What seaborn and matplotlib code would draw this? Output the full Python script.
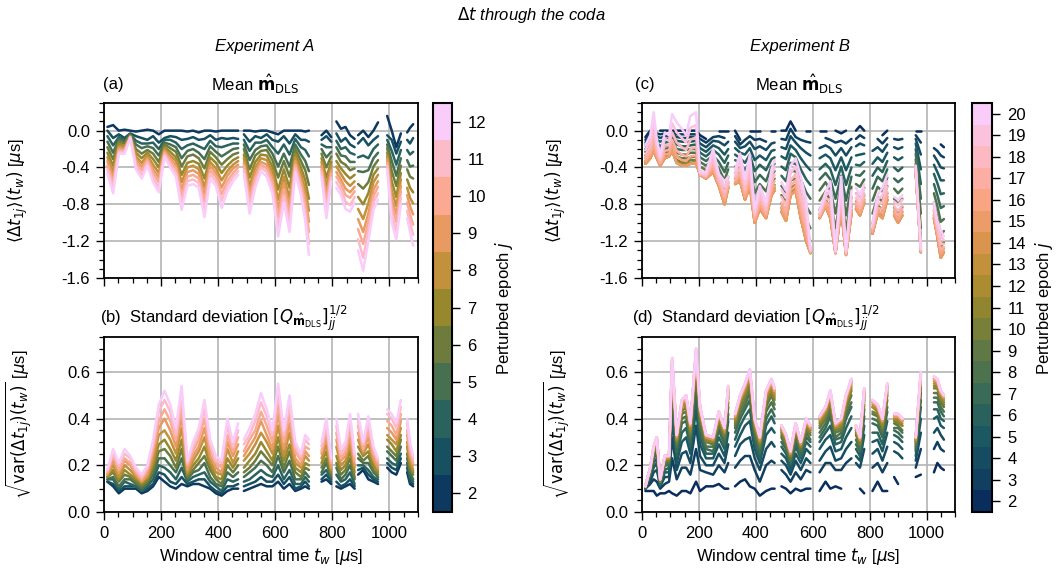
import numpy as np
import pandas as pd
import matplotlib
matplotlib.use("Agg")
import matplotlib.pyplot as plt
import matplotlib.cm as cm
import seaborn as sns
from matplotlib.colors import LinearSegmentedColormap, ListedColormap, BoundaryNorm
from matplotlib.ticker import MultipleLocator, FormatStrFormatter

# ---------------- data (values in units of 0.01 us) ----------------
epochs_a = list(range(2, 13))
epochs_b = list(range(2, 21))

# window central times, Experiment A (rows of None are gaps)
t_a = [12, 32, 52, 72, 92, 112, 132, 152, 172, 192, 212, 232, 252, 272, 292, 312, 332, 352, 372, 392,
       412, 432, 452, 470, 480, 490, 510, 530, 550, 570, 590, 610, 630, 650, 670, 690, 705, 718, 740,
       762, 779, 796, 805, 814, 830, 846, 862, 878, 884, 890, 908, 926, 944, 960, 975,
       992, 1008, 1024, 1040, 1050, 1062, 1072, 1083]

# (a) mean, one row per window, columns j = 2..12
mean_a = [
    [4, 0, -6, -12, -18, -24, -29, -33, -38, -42, -47],
    [6, -8, -16, -24, -31, -38, -45, -51, -56, -62, -68],
    [0, -4, -7, -9, -12, -14, -17, -19, -21, -23, -25],
    [1, -8, -10, -12, -14, -17, -18, -20, -22, -23, -25],
    [0, -3, -4, -4, -5, -6, -6, -7, -7, -7, -8],
    [-1, -6, -11, -15, -20, -24, -28, -32, -35, -38, -42],
    [0, -8, -14, -19, -25, -30, -35, -39, -43, -48, -52],
    [1, -10, -14, -17, -21, -24, -27, -30, -32, -35, -38],
    [0, -6, -13, -19, -25, -31, -37, -42, -46, -51, -56],
    [-4, -13, -20, -27, -34, -40, -46, -51, -56, -62, -67],
    [0, -8, -10, -13, -15, -18, -20, -22, -24, -26, -28],
    [0, -6, -10, -15, -19, -23, -27, -30, -33, -37, -40],
    [0, -7, -13, -18, -23, -29, -33, -38, -41, -46, -50],
    [0, -10, -20, -30, -39, -48, -56, -64, -71, -78, -86],
    [-1, -9, -16, -22, -28, -35, -40, -45, -50, -55, -60],
    [0, -7, -14, -20, -26, -33, -38, -43, -48, -53, -58],
    [-2, -10, -17, -24, -30, -36, -42, -47, -52, -57, -62],
    [0, -9, -20, -31, -41, -52, -61, -69, -77, -86, -94],
    [0, -5, -11, -17, -23, -29, -34, -38, -43, -47, -52],
    [-1, -10, -17, -23, -29, -35, -41, -46, -50, -55, -60],
    [0, -8, -18, -28, -37, -46, -54, -62, -69, -76, -84],
    [0, -9, -16, -24, -31, -38, -44, -49, -55, -60, -66],
    [0, -8, -14, -20, -26, -32, -37, -41, -46, -50, -55],
    [0, -9, -14, -19, -24, -29, -33, -37, -40, -44, -48],
    None,
    [0, -4, -10, -15, -20, -26, -30, -35, -38, -43, -47],
    [0, -12, -22, -32, -42, -51, -60, -67, -74, -82, -90],
    [-1, -6, -13, -21, -27, -34, -40, -46, -51, -56, -62],
    [0, -8, -13, -17, -22, -26, -30, -34, -37, -40, -44],
    [0, -4, -10, -16, -21, -27, -32, -37, -41, -45, -50],
    [-2, -10, -18, -25, -32, -39, -45, -51, -56, -62, -68],
    [-4, -12, -25, -39, -51, -64, -75, -85, -94, -105, -115],
    [0, -6, -15, -25, -33, -42, -50, -57, -64, -71, -78],
    [0, -14, -26, -39, -50, -62, -73, -82, -91, -100, -110],
    [0, -4, -9, -15, -20, -25, -29, -33, -37, -41, -45],
    [0, -10, -18, -26, -33, -40, -47, -53, -58, -64, -70],
    [-1, -10, -21, -33, -43, -54, -64, -72, -80, -89, -98],
    [0, -12, -28, -44, -59, -74, -87, -99, -110, -123, -135],
    None,
    [-5, -10, -15, -20, -25, -30, -34, -38, -42, -46, -50],
    [0, -6, -18, -29, -40, -51, -60, -69, -77, -86, -95],
    [-7, -12, -18, -23, -28, -34, -38, -43, -46, -51, -55],
    None,
    [10, -3, -11, -18, -25, -33, -39, -45, -50, -56, -62],
    [2, -12, -20, -27, -34, -41, -47, -53, -58, -64, -70],
    [4, -8, -18, -28, -37, -47, -55, -63, -70, -77, -85],
    [-5, -15, -24, -34, -43, -52, -60, -67, -73, -81, -88],
    [-9, -18, -26, -34, -41, -48, -55, -61, -66, -72, -78],
    None,
    [-5, -14, -29, -44, -58, -72, -85, -96, -107, -118, -130],
    [0, -8, -27, -45, -63, -80, -96, -110, -123, -138, -152],
    [-7, -16, -30, -43, -56, -68, -79, -90, -99, -110, -120],
    [0, -10, -20, -30, -39, -48, -56, -64, -71, -78, -86],
    [9, -6, -15, -24, -32, -41, -48, -55, -61, -68, -75],
    None,
    [16, -5, -10, -15, -19, -24, -28, -31, -35, -38, -42],
    [0, -10, -22, -33, -44, -55, -65, -74, -82, -91, -100],
    [-18, -25, -37, -49, -60, -72, -82, -91, -99, -109, -118],
    [-3, -12, -21, -30, -38, -46, -53, -60, -66, -73, -80],
    None,
    [-2, -10, -21, -32, -42, -53, -62, -70, -78, -87, -95],
    [3, -14, -26, -39, -50, -62, -73, -82, -91, -100, -110],
    [7, -8, -23, -38, -52, -67, -79, -91, -102, -113, -125],
]

# (b) standard deviation, columns j = 2..12
std_a = [
    [13, 13, 14, 14, 15, 15, 16, 16, 17, 18, 18],
    [11, 12, 14, 15, 17, 18, 20, 22, 24, 25, 27],
    [8, 9, 10, 11, 13, 14, 15, 17, 18, 20, 21],
    [10, 11, 13, 14, 16, 18, 20, 22, 23, 25, 27],
    [10, 11, 12, 14, 15, 16, 18, 20, 21, 23, 24],
    [10, 11, 11, 12, 13, 14, 15, 16, 17, 18, 19],
    [8, 9, 9, 10, 11, 12, 13, 13, 14, 15, 16],
    [9, 10, 11, 12, 13, 14, 15, 16, 18, 19, 20],
    [11, 12, 14, 16, 18, 20, 22, 25, 27, 29, 31],
    [15, 17, 20, 23, 26, 29, 33, 36, 39, 43, 46],
    [13, 16, 19, 23, 27, 31, 35, 40, 44, 48, 52],
    [11, 13, 17, 20, 24, 27, 31, 35, 39, 43, 46],
    [10, 12, 14, 17, 19, 22, 25, 28, 31, 33, 36],
    [12, 15, 19, 23, 27, 31, 36, 41, 45, 50, 54],
    [11, 12, 13, 14, 15, 16, 17, 18, 20, 21, 22],
    [12, 13, 15, 17, 18, 20, 22, 24, 26, 28, 30],
    [12, 14, 16, 18, 21, 23, 26, 28, 31, 34, 36],
    [11, 14, 17, 21, 24, 28, 32, 36, 40, 44, 48],
    [10, 11, 13, 15, 18, 20, 22, 24, 27, 29, 31],
    [8, 9, 11, 12, 14, 15, 17, 19, 21, 22, 24],
    [7, 8, 9, 11, 12, 14, 16, 17, 19, 21, 22],
    [9, 11, 14, 17, 20, 23, 27, 30, 33, 37, 40],
    [10, 11, 13, 15, 17, 19, 21, 24, 26, 28, 30],
    [10, 12, 14, 17, 20, 23, 26, 29, 32, 35, 38],
    None,
    [9, 11, 13, 15, 17, 19, 22, 24, 26, 29, 31],
    [10, 12, 14, 17, 19, 22, 25, 28, 31, 33, 36],
    [11, 13, 16, 19, 22, 25, 29, 32, 35, 39, 42],
    [12, 15, 18, 22, 26, 30, 34, 39, 43, 47, 51],
    [11, 13, 16, 20, 23, 26, 30, 33, 37, 41, 44],
    [11, 13, 15, 17, 20, 22, 25, 27, 30, 33, 35],
    [13, 16, 20, 24, 28, 32, 37, 42, 46, 51, 55],
    [10, 12, 14, 17, 19, 22, 24, 27, 30, 33, 35],
    [12, 15, 18, 22, 26, 29, 34, 38, 42, 46, 50],
    [9, 10, 12, 14, 17, 19, 21, 23, 26, 28, 30],
    [10, 11, 12, 14, 15, 17, 19, 20, 22, 24, 25],
    [11, 13, 15, 17, 19, 21, 24, 26, 28, 31, 33],
    [10, 11, 13, 15, 18, 20, 22, 24, 27, 29, 31],
    None,
    [13, 14, 16, 17, 19, 21, 23, 25, 26, 28, 30],
    [14, 16, 18, 21, 23, 26, 29, 32, 35, 37, 40],
    [12, 13, 14, 15, 16, 17, 18, 19, 21, 22, 23],
    None,
    [11, 13, 16, 19, 21, 24, 28, 31, 34, 37, 40],
    [10, 11, 13, 14, 16, 18, 20, 22, 23, 25, 27],
    [11, 12, 14, 16, 18, 20, 22, 24, 26, 28, 30],
    [12, 14, 17, 20, 23, 26, 29, 32, 36, 39, 42],
    [10, 11, 12, 14, 15, 17, 19, 20, 22, 24, 25],
    None,
    [16, 18, 20, 23, 25, 28, 31, 34, 37, 39, 42],
    [18, 19, 20, 21, 22, 24, 25, 26, 27, 29, 30],
    [14, 16, 18, 21, 24, 26, 29, 32, 35, 38, 41],
    [13, 14, 15, 17, 18, 20, 22, 23, 25, 27, 28],
    [12, 13, 14, 15, 16, 17, 18, 19, 21, 22, 23],
    None,
    [19, 21, 23, 26, 28, 31, 33, 36, 39, 42, 44],
    [17, 19, 21, 24, 26, 29, 31, 34, 37, 40, 42],
    [16, 18, 20, 22, 24, 26, 29, 31, 33, 36, 38],
    [21, 23, 25, 28, 31, 33, 36, 39, 42, 45, 48],
    None,
    [17, 19, 21, 23, 25, 28, 30, 33, 35, 38, 40],
    [12, 13, 15, 17, 18, 20, 22, 24, 26, 28, 30],
    [11, 12, 13, 14, 16, 17, 18, 20, 21, 23, 24],
]

# window central times, Experiment B
t_b = [12, 29, 41, 52, 64, 80, 95, 106, 122, 140, 155, 170, 190, 204, 225, 250, 270, 290, 303, 315,
       327, 345, 362, 379, 396, 414, 436, 455, 466, 478,
       490, 506, 522, 540, 558, 577, 592, 610,
       624, 645, 662, 680, 700, 717, 736, 745,
       752, 766, 781, 795, 810, 828, 845, 862, 875, 886, 900, 915, 940,
       962, 980, 1000, 1026, 1038, 1050, 1061]

# (c) mean, columns j = 2..20
mean_b = [
    [-7, -10, -13, -16, -20, -23, -27, -30, -33, -35, -36, -36, -36, -36, -33, -30, -26, -21, -16],
    [0, -3, -6, -10, -13, -17, -20, -24, -27, -29, -30, -30, -30, -30, -26, -22, -17, -11, -5],
    [0, -2, -4, -7, -10, -12, -15, -18, -20, -21, -22, -22, -22, -22, -16, -9, -1, 10, 20],
    [None, -3, -6, -10, -13, -17, -20, -24, -27, -29, -30, -30, -30, -30, -27, -24, -19, -14, -9],
    [0, -4, -8, -12, -17, -21, -26, -30, -34, -36, -38, -38, -38, -38, -36, -35, -32, -30, -27],
    [0, -3, -6, -10, -13, -17, -20, -24, -27, -29, -30, -30, -30, -30, -26, -22, -16, -9, -2],
    [0, None, -6, -9, -12, -16, -19, -22, -25, -27, -28, -28, -28, -28, -25, -21, -16, -11, -5],
    [0, -2, -4, -7, -10, -12, -15, -18, -20, -21, -22, -22, -22, -22, -16, -10, -2, 8, 18],
    [0, -4, -7, -11, -15, -20, -24, -28, -32, -34, -35, -35, -35, -35, -28, -22, -13, -2, 9],
    [0, -4, -8, -12, -17, -21, -26, -30, -34, -36, -38, -38, -38, -38, -32, -26, -18, -8, 2],
    [0, -4, -8, -12, -17, -21, -26, -30, -34, -36, -38, -38, -38, -38, -33, -28, -21, -13, -5],
    [0, -4, -7, -12, -16, -20, -24, -29, -32, -35, -36, -36, -36, -36, -28, -20, -10, 3, 16],
    [0, -4, -7, -11, -15, -20, -24, -28, -32, -34, -35, -35, -35, -35, -27, -18, -7, 6, 20],
    [-5, -9, -14, -19, -24, -29, -34, -39, -44, -46, -48, -48, -48, -48, -48, -47, -47, -46, -45],
    [-9, -13, -18, -23, -28, -33, -38, -43, -48, -50, -52, -52, -52, -52, -51, -50, -49, -47, -45],
    [None, -7, -11, -16, -21, -27, -32, -37, -41, -43, -45, -45, -45, -45, -41, -37, -32, -26, -20],
    [0, -6, -12, -19, -26, -34, -41, -48, -54, -58, -60, -60, -60, -60, -58, -56, -53, -50, -47],
    [0, -8, -16, -26, -35, -45, -54, -64, -72, -77, -80, -80, -80, -80, -76, -72, -67, -61, -55],
    [0, None, -12, -20, -27, -35, -42, -50, -56, -60, -62, -62, -62, -62, -60, -58, -56, -53, -50],
    None,
    [0, -6, -12, -19, -26, -32, -39, -46, -52, -56, -58, -58, -58, -58, -56, -53, -50, -46, -42],
    [-10, -15, -19, -24, -30, -35, -41, -46, -51, -53, -55, -55, -55, -55, -50, -46, -40, -32, -25],
    [None, -10, -17, -26, -35, -43, -52, -61, -68, -72, -75, -75, -75, -75, -72, -68, -64, -58, -53],
    [0, -6, -12, -19, -26, -34, -41, -48, -54, -58, -60, -60, -60, -60, -55, -50, -43, -34, -26],
    [0, -10, -20, -32, -44, -56, -68, -80, -90, -96, -100, -100, -100, -100, -98, -95, -92, -89, -85],
    [0, -9, -17, -27, -37, -48, -58, -68, -77, -82, -85, -85, -85, -85, -81, -77, -72, -66, -60],
    [None, -12, -21, -32, -43, -55, -66, -77, -86, -91, -95, -95, -95, -95, -92, -90, -86, -82, -78],
    [0, None, -14, -22, -31, -39, -48, -56, -63, -67, -70, -70, -70, -70, -66, -62, -56, -49, -42],
    [0, -7, -13, -21, -29, -36, -44, -52, -59, -62, -65, -65, -65, -65, -60, -55, -48, -40, -32],
    None,
    [0, -9, -18, -28, -39, -49, -60, -70, -79, -84, -88, -88, -88, -88, -83, -78, -72, -64, -56],
    [0, -10, -20, -31, -43, -55, -67, -78, -88, -94, -98, -98, -98, -98, -93, -88, -81, -73, -65],
    [10, 2, -6, -16, -25, -35, -44, -54, -62, -67, -70, -70, -70, -70, -65, -60, -54, -46, -38],
    [0, -7, -13, -21, -29, -36, -44, -52, -59, -62, -65, -65, -65, -65, -60, -54, -47, -39, -30],
    [None, -10, -19, -30, -42, -53, -65, -76, -86, -91, -95, -95, -95, -95, -88, -81, -72, -61, -50],
    [0, -12, -24, -38, -53, -67, -82, -96, -108, -115, -120, -120, -120, -120, -113, -106, -97, -86, -75],
    [0, -13, -27, -43, -59, -74, -90, -106, -120, -128, -133, -133, -133, -133, -132, -132, -131, -129, -128],
    None,
    [0, None, -19, -30, -42, -53, -65, -76, -86, -91, -95, -95, -95, -95, -94, -93, -91, -89, -87],
    [0, -8, -16, -26, -36, -46, -56, -66, -74, -79, -82, -82, -82, -82, -80, -77, -74, -71, -67],
    [None, -10, -19, -30, -42, -53, -65, -76, -86, -91, -95, -95, -95, -95, -89, -83, -75, -65, -55],
    [0, -13, -27, -43, -59, -74, -90, -106, -120, -128, -133, -133, -133, -133, -133, -132, -132, -131, -130],
    [-3, -11, -19, -29, -39, -49, -59, -69, -77, -82, -85, -85, -85, -85, -80, -74, -67, -59, -50],
    [0, -14, -27, -43, -59, -76, -92, -108, -122, -130, -135, -135, -135, -135, -134, -134, -133, -131, -130],
    [None, -9, -18, -29, -40, -50, -61, -72, -81, -86, -90, -90, -90, -90, -86, -82, -77, -71, -65],
    None,
    [0, -9, -17, -27, -37, -48, -58, -68, -77, -82, -85, -85, -85, -85, -82, -78, -73, -68, -62],
    [5, -5, -14, -26, -38, -49, -61, -73, -82, -88, -92, -92, -92, -92, -89, -85, -81, -75, -70],
    [0, -8, -16, -25, -34, -44, -53, -62, -70, -75, -78, -78, -78, -78, -75, -72, -68, -63, -58],
    None,
    [0, None, -22, -36, -49, -63, -76, -90, -101, -108, -112, -112, -112, -112, -110, -108, -106, -103, -100],
    [None, -9, -18, -29, -40, -50, -61, -72, -81, -86, -90, -90, -90, -90, -87, -84, -80, -75, -70],
    [-5, -14, -23, -34, -45, -55, -66, -77, -86, -91, -95, -95, -95, -95, -90, -85, -78, -70, -62],
    [0, -8, -15, -24, -33, -42, -51, -60, -68, -72, -75, -75, -75, -75, -71, -67, -61, -55, -48],
    None,
    [0, -9, -18, -29, -40, -52, -63, -74, -83, -88, -92, -92, -92, -92, -89, -86, -82, -77, -72],
    [None, -10, -20, -32, -44, -56, -68, -80, -90, -96, -100, -100, -100, -100, -96, -92, -87, -81, -75],
    [0, -9, -18, -29, -40, -52, -63, -74, -83, -88, -92, -92, -92, -92, -89, -85, -81, -75, -70],
    None,
    [0, -5, -9, -14, -20, -25, -31, -36, -41, -43, -45, -45, -45, -45, -44, -43, -41, -40, -38],
    [0, -13, -26, -42, -58, -74, -90, -106, -119, -127, -132, -132, -132, -132, -131, -131, -130, -129, -128],
    None,
    [-10, -19, -27, -37, -47, -58, -68, -78, -87, -92, -95, -95, -95, -95, -92, -90, -86, -82, -78],
    [None, -22, -33, -45, -57, -70, -82, -94, -105, -111, -115, -115, -115, -115, -112, -110, -106, -102, -98],
    [-15, -27, -40, -54, -69, -84, -99, -113, -126, -133, -138, -138, -138, -138, -133, -129, -123, -115, -108],
    [-18, -29, -41, -54, -68, -82, -96, -109, -121, -127, -132, -132, -132, -132, -129, -127, -123, -119, -115],
]

# (d) standard deviation, columns j = 2..20
std_b = [
    [9, 10, 10, 10, 10, 10, 11, 11, 11, 11, 11, 11, 11, 11, 11, 11, 11, 11, 11],
    [9, 12, 13, 15, 16, 16, 17, 17, 18, 18, 18, 19, 19, 19, 19, 19, 19, 19, 19],
    [9, 14, 17, 19, 21, 23, 24, 25, 26, 26, 27, 27, 27, 28, 28, 28, 28, 28, 28],
    [7, 13, 18, 21, 23, 25, 27, 28, 29, 30, 30, 31, 31, 32, 32, 32, 32, 32, 32],
    [8, 10, 11, 11, 12, 12, 13, 13, 13, 14, 14, 14, 14, 14, 14, 14, 14, 14, 14],
    [8, 12, 15, 17, 18, 20, 21, 21, 22, 23, 23, 23, 24, 24, 24, 24, 24, 24, 24],
    [9, 13, 15, 17, 19, 20, 21, 22, 22, 23, 23, 23, 24, 24, 24, 24, 24, 24, 24],
    [8, 23, 32, 40, 46, 50, 54, 57, 59, 61, 62, 63, 64, 65, 65, 65, 66, 66, 66],
    [7, 14, 18, 21, 24, 26, 28, 29, 30, 31, 31, 32, 32, 33, 33, 33, 33, 33, 33],
    [9, 19, 25, 30, 34, 38, 40, 42, 43, 45, 45, 46, 47, 47, 47, 48, 48, 48, 48],
    [9, 19, 26, 32, 36, 39, 41, 43, 45, 46, 47, 48, 49, 49, 49, 50, 50, 50, 50],
    [8, 16, 21, 25, 28, 30, 32, 33, 34, 35, 36, 37, 37, 37, 38, 38, 38, 38, 38],
    [13, 27, 37, 44, 50, 55, 58, 61, 63, 65, 66, 67, 68, 69, 69, 69, 70, 70, 70],
    [9, 18, 24, 29, 32, 35, 37, 39, 41, 42, 43, 43, 44, 44, 45, 45, 45, 45, 45],
    [11, 17, 20, 23, 25, 27, 28, 30, 30, 31, 32, 32, 32, 33, 33, 33, 33, 33, 33],
    [11, 16, 20, 23, 25, 26, 28, 29, 30, 30, 31, 31, 31, 32, 32, 32, 32, 32, 32],
    [12, 20, 25, 29, 32, 35, 37, 38, 39, 40, 41, 42, 42, 42, 43, 43, 43, 43, 43],
    [10, 17, 21, 24, 27, 29, 31, 32, 33, 34, 34, 35, 35, 36, 36, 36, 36, 36, 36],
    [10, 21, 29, 34, 39, 42, 45, 47, 49, 50, 51, 52, 53, 53, 53, 54, 54, 54, 54],
    None,
    [11, 19, 24, 28, 31, 34, 36, 37, 38, 39, 40, 41, 41, 41, 42, 42, 42, 42, 42],
    [13, 22, 29, 33, 37, 40, 42, 44, 46, 47, 48, 48, 49, 49, 49, 50, 50, 50, 50],
    [14, 24, 31, 37, 41, 44, 46, 48, 50, 51, 52, 53, 54, 54, 54, 55, 55, 55, 55],
    [11, 24, 32, 39, 44, 48, 51, 53, 55, 57, 58, 59, 60, 60, 60, 61, 61, 61, 61],
    [10, 18, 23, 27, 30, 32, 34, 35, 36, 37, 38, 39, 39, 39, 40, 40, 40, 40, 40],
    [7, 13, 18, 21, 23, 25, 27, 28, 29, 30, 30, 31, 31, 32, 32, 32, 32, 32, 32],
    [9, 20, 27, 33, 37, 40, 43, 45, 47, 48, 49, 50, 51, 51, 51, 52, 52, 52, 52],
    [10, 22, 30, 36, 41, 44, 47, 50, 51, 53, 54, 55, 56, 56, 56, 57, 57, 57, 57],
    [10, 21, 28, 34, 38, 41, 44, 46, 48, 49, 50, 51, 52, 52, 52, 53, 53, 53, 53],
    None,
    [11, 18, 22, 25, 28, 30, 32, 33, 34, 35, 35, 36, 36, 37, 37, 37, 37, 37, 37],
    [10, 16, 20, 23, 25, 27, 28, 29, 30, 31, 32, 32, 32, 33, 33, 33, 33, 33, 33],
    [8, 13, 16, 18, 20, 21, 22, 23, 24, 24, 25, 25, 25, 26, 26, 26, 26, 26, 26],
    [10, 17, 22, 25, 28, 30, 32, 34, 35, 36, 36, 37, 37, 37, 38, 38, 38, 38, 38],
    [9, 14, 18, 21, 23, 24, 26, 27, 28, 28, 29, 29, 29, 30, 30, 30, 30, 30, 30],
    [10, 18, 23, 27, 30, 32, 34, 35, 36, 37, 38, 39, 39, 39, 40, 40, 40, 40, 40],
    [10, 17, 21, 25, 28, 30, 31, 33, 34, 35, 35, 36, 36, 36, 37, 37, 37, 37, 37],
    None,
    [9, 17, 22, 27, 30, 32, 34, 36, 37, 38, 39, 40, 40, 40, 41, 41, 41, 41, 41],
    [13, 21, 26, 31, 34, 36, 38, 40, 41, 42, 43, 44, 44, 44, 45, 45, 45, 45, 45],
    [10, 21, 28, 33, 37, 41, 43, 45, 47, 48, 49, 50, 51, 51, 51, 52, 52, 52, 52],
    [11, 18, 22, 26, 29, 31, 32, 34, 35, 36, 36, 37, 37, 37, 38, 38, 38, 38, 38],
    [10, 18, 23, 27, 30, 32, 34, 35, 36, 37, 38, 39, 39, 39, 40, 40, 40, 40, 40],
    [None, 21, 27, 32, 36, 40, 42, 44, 45, 47, 47, 48, 49, 49, 49, 50, 50, 50, 50],
    [None, 23, 30, 36, 41, 45, 47, 50, 52, 53, 54, 55, 56, 56, 56, 57, 57, 57, 57],
    None,
    [None, 16, 21, 24, 27, 29, 31, 33, 34, 35, 35, 36, 36, 36, 37, 37, 37, 37, 37],
    [10, None, 19, 22, 24, 26, 27, 29, 29, 30, 31, 31, 31, 32, 32, 32, 32, 32, 32],
    [8, 19, 27, 33, 37, 41, 44, 46, 48, 49, 50, 51, 52, 52, 52, 53, 53, 53, 53],
    None,
    [9, 19, 25, 30, 34, 38, 40, 42, 43, 45, 45, 46, 47, 47, 47, 48, 48, 48, 48],
    [13, 21, 27, 31, 34, 37, 39, 41, 42, 43, 44, 45, 45, 45, 46, 46, 46, 46, 46],
    [9, 17, 22, 26, 29, 32, 34, 35, 36, 37, 38, 39, 39, 39, 40, 40, 40, 40, 40],
    [9, 21, 28, 34, 39, 43, 45, 48, 50, 51, 52, 53, 54, 54, 54, 55, 55, 55, 55],
    None,
    [15, 22, 26, 30, 33, 35, 36, 38, 39, 40, 40, 41, 41, 41, 42, 42, 42, 42, 42],
    [12, None, 25, 29, 32, 34, 36, 37, 38, 39, 40, 41, 41, 41, 42, 42, 42, 42, 42],
    [None, 18, 23, 27, 30, 32, 34, 35, 37, 37, 38, 39, 39, 39, 40, 40, 40, 40, 40],
    None,
    [15, 19, 22, 24, 26, 27, 28, 29, 30, 30, 31, 31, 32, 32, 32, 32, 32, 32, 32],
    [16, 27, 34, 40, 45, 48, 51, 53, 55, 56, 57, 58, 59, 59, 59, 60, 60, 60, 60],
    None,
    [17, 27, 34, 40, 44, 47, 49, 51, 53, 54, 55, 56, 57, 57, 57, 58, 58, 58, 58],
    [21, 30, 36, 41, 44, 47, 49, 51, 53, 54, 55, 55, 56, 56, 56, 57, 57, 57, 57],
    [19, 27, 33, 37, 40, 43, 45, 47, 48, 49, 50, 51, 51, 51, 52, 52, 52, 52, 52],
    [18, 26, 31, 36, 39, 41, 43, 45, 46, 47, 48, 49, 49, 49, 50, 50, 50, 50, 50],
]

# ---------------- styling ----------------
W, H = 1062, 582
sns.set_theme(style="ticks")
plt.rcParams["font.family"] = ["Liberation Sans", "DejaVu Sans"]
plt.rcParams["mathtext.fontset"] = "dejavusans"
plt.rcParams["axes.unicode_minus"] = False
for key in ["text.color", "axes.labelcolor", "xtick.color", "ytick.color", "axes.edgecolor"]:
    plt.rcParams[key] = "black"
FS = 12

batlow_anchors = ["#011959", "#103F60", "#1C5A62", "#3C6D56", "#687B3E",
                  "#9D892B", "#D29343", "#F8A17B", "#FDB7BC", "#FACCFA"]
batlow = LinearSegmentedColormap.from_list("batlow_like", batlow_anchors)
colors_a = [batlow(x) for x in np.linspace(0.09, 1.0, len(epochs_a))]
colors_b = [batlow(x) for x in np.linspace(0.06, 1.0, len(epochs_b))]


def long_frame(times, rows, js):
    seg = {j: 0 for j in js}
    recs = []
    for t, row in zip(times, rows):
        vals = row if row is not None else [None] * len(js)
        for j, v in zip(js, vals):
            if v is None:
                seg[j] += 1
            else:
                recs.append({"t": t, "v": v / 100.0, "j": j, "unit": f"{j}-{seg[j]}"})
    return pd.DataFrame(recs)


fig = plt.figure(figsize=(W / 100, H / 100), dpi=100)


def px_axes(l, t, r, b):
    return fig.add_axes([l / W, 1 - b / H, (r - l) / W, (b - t) / H])


ax_a = px_axes(104, 103, 418, 278)
ax_b = px_axes(104, 337, 418, 512)
ax_c = px_axes(642, 103, 955, 278)
ax_d = px_axes(642, 337, 955, 512)
cax_a = px_axes(433, 103, 452, 512)
cax_b = px_axes(972, 103, 992, 512)


def draw(ax, times, rows, js, colors):
    df = long_frame(times, rows, js)
    pal = dict(zip(js, colors))
    sns.lineplot(data=df, x="t", y="v", hue="j", units="unit", estimator=None,
                 hue_order=js, palette=pal, legend=False, sort=False,
                 linewidth=1.8, ax=ax)


def style(ax, kind, ylab_x):
    ax.set_xlim(0, 1100)
    ax.xaxis.set_major_locator(MultipleLocator(200))
    ax.xaxis.set_minor_locator(MultipleLocator(50))
    if kind == "mean":
        ax.set_ylim(-1.6, 0.3)
        ax.set_yticks([0.0, -0.4, -0.8, -1.2, -1.6])
        ax.yaxis.set_minor_locator(MultipleLocator(0.1))
        ax.set_ylabel(r"$\langle\Delta t_{1j}\rangle(t_w)$ [$\mu$s]", fontsize=FS)
        ax.set_xticklabels([])
        ax.set_xlabel("")
    else:
        ax.set_ylim(0, 0.75)
        ax.set_yticks([0.0, 0.2, 0.4, 0.6])
        ax.yaxis.set_minor_locator(MultipleLocator(0.05))
        ax.set_ylabel(r"$\sqrt{\mathrm{var}(\Delta t_{1j})(t_w)}$ [$\mu$s]", fontsize=FS)
        ax.set_xlabel(r"Window central time $t_w$ [$\mu$s]", fontsize=FS)
    ax.yaxis.set_major_formatter(FormatStrFormatter("%.1f"))
    ax.yaxis.set_label_coords(ylab_x, 0.5)
    ax.grid(True, which="major", color="#b4b4b4", linewidth=1.2)
    ax.set_axisbelow(True)
    ax.tick_params(which="major", direction="out", length=6, width=1.0, labelsize=FS,
                   colors="black", pad=4)
    ax.tick_params(which="minor", direction="out", length=3.5, width=0.9, colors="black")
    for s in ax.spines.values():
        s.set_color("black")
        s.set_linewidth(1.3)


draw(ax_a, t_a, mean_a, epochs_a, colors_a)
draw(ax_b, t_a, std_a, epochs_a, colors_a)
draw(ax_c, t_b, mean_b, epochs_b, colors_b)
draw(ax_d, t_b, std_b, epochs_b, colors_b)

style(ax_a, "mean", -0.235)
style(ax_b, "std", -0.222)
style(ax_c, "mean", -0.235)
style(ax_d, "std", -0.225)

# panel titles
ty = 1 + 19 / 175
ax_a.text(-0.003, ty, "(a)", transform=ax_a.transAxes, ha="left", va="center", fontsize=FS)
ax_a.text(0.48, ty, r"Mean $\hat{\mathbf{m}}_{\mathrm{DLS}}$", transform=ax_a.transAxes,
          ha="center", va="center", fontsize=FS)
ax_b.text(-0.013, ty, r"(b)  Standard deviation $[Q_{\hat{\mathbf{m}}_{\mathrm{DLS}}}]_{jj}^{1/2}$",
          transform=ax_b.transAxes, ha="left", va="center", fontsize=FS)
ax_c.text(-0.022, ty, "(c)", transform=ax_c.transAxes, ha="left", va="center", fontsize=FS)
ax_c.text(0.5, ty, r"Mean $\hat{\mathbf{m}}_{\mathrm{DLS}}$", transform=ax_c.transAxes,
          ha="center", va="center", fontsize=FS)
ax_d.text(-0.032, ty, r"(d)  Standard deviation $[Q_{\hat{\mathbf{m}}_{\mathrm{DLS}}}]_{jj}^{1/2}$",
          transform=ax_d.transAxes, ha="left", va="center", fontsize=FS)

fig.text(531 / W, 1 - 15 / H, r"$\Delta t$ through the coda", ha="center", va="center",
         fontsize=FS, style="italic")
fig.text(265 / W, 1 - 47 / H, "Experiment A", ha="center", va="center", fontsize=FS, style="italic")
fig.text(800 / W, 1 - 47 / H, "Experiment B", ha="center", va="center", fontsize=FS, style="italic")


def add_cbar(cax, js, colors):
    cmap_d = ListedColormap(colors)
    bounds = np.arange(js[0] - 0.5, js[-1] + 1.0, 1.0)
    norm = BoundaryNorm(bounds, cmap_d.N)
    sm = cm.ScalarMappable(norm=norm, cmap=cmap_d)
    cb = fig.colorbar(sm, cax=cax, ticks=js)
    cb.set_label(r"Perturbed epoch $j$", fontsize=FS, labelpad=5)
    cb.outline.set_linewidth(1.5)
    cb.outline.set_edgecolor("black")
    cax.tick_params(labelsize=FS, length=6, width=1.0, colors="black", pad=5)
    cax.minorticks_off()
    return cb


add_cbar(cax_a, epochs_a, colors_a)
add_cbar(cax_b, epochs_b, colors_b)

fig.savefig("out.png", dpi=100)
